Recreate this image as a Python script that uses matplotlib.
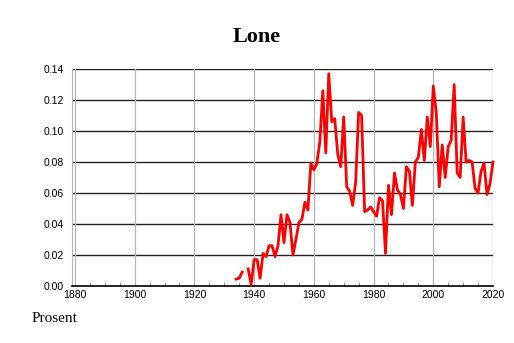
import matplotlib
matplotlib.use('Agg')
import matplotlib.pyplot as plt
from matplotlib.ticker import MultipleLocator
import numpy as np

# values, 1934-2020 (1937 missing)
years = list(range(1934, 2021))
values = [
    0.0045, 0.005, 0.009, None, 0.011, 0.001,          # 1934-1939
    0.017, 0.017, 0.005, 0.021, 0.019, 0.026, 0.026, 0.019, 0.026, 0.046,  # 1940s
    0.028, 0.046, 0.041, 0.020, 0.030, 0.041, 0.043, 0.054, 0.049, 0.079,  # 1950s
    0.075, 0.079, 0.093, 0.126, 0.086, 0.137, 0.106, 0.108, 0.085, 0.077,  # 1960s
    0.109, 0.064, 0.061, 0.052, 0.067, 0.112, 0.110, 0.048, 0.049, 0.051,  # 1970s
    0.048, 0.045, 0.057, 0.055, 0.021, 0.065, 0.046, 0.073, 0.062, 0.059,  # 1980s
    0.050, 0.077, 0.074, 0.052, 0.080, 0.083, 0.101, 0.081, 0.109, 0.090,  # 1990s
    0.129, 0.112, 0.064, 0.091, 0.070, 0.090, 0.094, 0.130, 0.073, 0.070,  # 2000s
    0.109, 0.080, 0.081, 0.080, 0.063, 0.060, 0.074, 0.079, 0.059, 0.066,  # 2010s
    0.080,                                               # 2020
]
yticks = [0.00, 0.02, 0.04, 0.06, 0.08, 0.10, 0.12, 0.14]

vals = np.array([np.nan if v is None else v for v in values])

fig = plt.figure(figsize=(5.14, 3.43), dpi=100)
ax = fig.add_axes([72/514, 1 - 286/343, 421/514, 217/343])

ax.plot(years, vals, color='red', lw=2.0, zorder=3, clip_on=False)

ax.set_xlim(1879, 2020)
ax.set_ylim(0, 0.14)
ax.xaxis.set_major_locator(MultipleLocator(20))
ax.xaxis.set_minor_locator(MultipleLocator(5))
ax.set_yticks(yticks)
ax.set_yticklabels(['%.2f' % t for t in yticks])

# grid: black horizontals, grey verticals
for t in yticks[1:]:
    ax.axhline(t, color='#222222', lw=1.0, zorder=1)
for t in range(1880, 2021, 20):
    ax.axvline(t, color='#b4b4b4', lw=0.9, zorder=1)

for s in ['top', 'right']:
    ax.spines[s].set_visible(False)
ax.spines['left'].set_color('#b4b4b4')
ax.spines['bottom'].set_color('black')
ax.spines['bottom'].set_linewidth(1.2)

tickfont = 'Liberation Sans'
ax.tick_params(axis='y', length=0, pad=6, labelsize=7.5)
ax.tick_params(axis='x', which='major', length=0, pad=3, labelsize=7.5)
ax.tick_params(axis='x', which='minor', direction='in', length=2.5, color='#555555')
for lab in ax.get_xticklabels() + ax.get_yticklabels():
    lab.set_fontfamily(tickfont)

fig.text(0.5, 1 - 42/343, 'Lone', ha='center', va='baseline',
         fontsize=16, fontweight='bold', family='Liberation Serif')
fig.text(32/514, 1 - 322/343, 'Prosent', ha='left', va='baseline',
         fontsize=11, family='Liberation Serif')

fig.savefig('out.png', dpi=100)
